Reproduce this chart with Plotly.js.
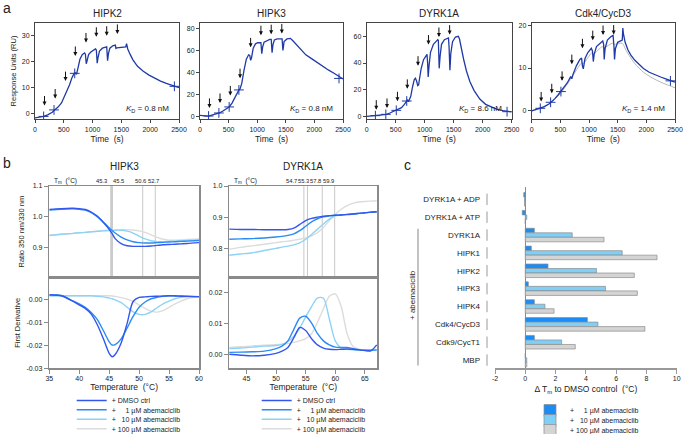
<!DOCTYPE html>
<html><head><meta charset="utf-8">
<script src="https://cdn.plot.ly/plotly-3.0.1.min.js"></script>
<style>html,body{margin:0;padding:0;background:#fff;}#chart{width:685px;height:434px;}</style>
</head><body><div id="chart"></div>
<script>
// ---------- DATA: panel a (SPR sensorgrams) ----------
const hipk2Time = [0,80,150,220,300,340,400,460,500,520,560,600,640,680,700,720,750,780,820,860,875,890,905,930,970,1010,1050,1065,1080,1095,1120,1170,1220,1245,1260,1275,1300,1350,1395,1405,1420,1480,1575,1590,1610,1650,1700,1780,1880,1980,2080,2180,2280,2380,2450,2500];
const hipk2RU   = [-1.6,-1.3,-1.0,-0.4,0.6,1.5,2.6,4.2,6.2,7.0,8.8,11.2,13.8,15.6,15.8,15.2,18.0,21.0,22.8,23.5,23.0,19.3,20.5,22.8,23.8,24.5,25.0,24.6,19.5,21.8,24.2,25.3,25.8,25.8,20.5,23.2,25.3,26.2,26.5,25.2,25.4,25.6,25.8,27.0,25.0,23.0,20.8,18.3,16.4,14.9,13.6,12.6,11.7,10.9,10.4,10.1];
const hipk3Time = [0,80,150,220,300,340,400,460,510,560,620,680,700,730,770,810,850,870,885,900,930,970,1010,1050,1065,1080,1095,1120,1170,1220,1245,1260,1275,1300,1350,1420,1435,1450,1470,1520,1580,1620,1680,1750,1850,1950,2050,2150,2250,2350,2450,2500];
const hipk3RU   = [0.8,0.5,0.2,1.2,2.4,3.0,4.8,7.0,8.5,12.0,18.5,24.0,25.0,30.0,42.0,52.0,56.0,55.5,51.0,53.0,62.0,66.0,67.0,67.5,67.0,57.0,63.0,67.5,69.0,70.0,70.0,58.0,65.0,69.5,70.5,71.0,70.5,60.0,68.0,70.5,71.0,69.0,65.5,61.3,56.0,52.5,48.8,45.5,42.0,39.0,35.5,34.0];
const dyrkTime  = [0,80,150,220,300,340,400,460,510,540,600,650,690,705,720,760,790,820,840,860,880,895,910,940,980,1020,1040,1050,1060,1075,1100,1150,1200,1225,1235,1250,1265,1290,1340,1390,1410,1420,1435,1450,1480,1530,1580,1600,1630,1670,1720,1780,1850,1950,2050,2150,2250,2350,2450,2500];
const dyrkRU    = [0,0.2,0.5,0.9,1.3,1.5,2.5,3.6,4.5,5.5,6.5,9.0,11.5,12.5,11.0,15.0,22.0,27.5,28.5,26.5,23.0,23.5,28.0,36.0,42.5,45.5,46.5,40.0,29.5,38.0,48.0,54.0,56.5,57.5,57.0,36.0,45.0,54.0,57.5,58.5,58.8,52.0,34.5,47.0,56.0,59.5,60.0,58.0,51.0,43.0,34.0,26.0,19.5,13.0,9.0,6.8,5.2,4.2,3.5,3.3];
const cdk4Time  = [0,80,150,220,300,340,400,460,510,560,620,680,700,720,780,840,870,885,900,930,980,1040,1060,1075,1090,1130,1190,1240,1255,1265,1280,1320,1380,1420,1435,1445,1460,1500,1580,1590,1600,1630,1680,1730,1800,1880,1950,2050,2150,2250,2350,2450,2500];
const cdk4RU    = [0,0.3,0.6,1.0,1.6,2.0,2.8,3.7,4.5,5.3,6.5,8.0,7.5,8.5,10.5,12.0,12.3,10.5,9.8,12.2,13.6,14.6,14.0,11.5,13.2,15.0,15.8,16.3,15.5,12.0,14.5,16.5,17.3,17.6,15.0,12.0,14.5,16.0,16.5,19.3,18.0,16.0,14.2,13.0,11.8,10.7,9.9,9.0,8.4,7.9,7.4,6.9,6.7];
const cdk4FitTime = [0,150,330,510,690,870,900,1050,1080,1230,1260,1410,1440,1580,1650,1800,1950,2100,2250,2400,2500];
const cdk4FitRU   = [0,0.5,1.8,4.2,7.6,11.2,11.0,13.6,13.3,15.0,14.7,15.8,15.5,15.8,14.0,11.0,9.0,7.7,6.7,5.9,5.4];
// injection markers (+)
const hipk2MarkT = [150,330,690,2420], hipk2MarkY = [-1.0,1.5,15.6,10.6];
const hipk3MarkT = [150,330,510,680,2430], hipk3MarkY = [0.2,3.0,8.5,24.0,34.5];
const dyrkMarkT  = [150,330,510,690,2420], dyrkMarkY  = [0.5,1.5,4.5,11.5,3.5];
const cdk4MarkT  = [150,330,510,2420], cdk4MarkY  = [0.6,2.0,4.5,7.0];
// injection arrows (time, tip RU)
const arrowT = [165,350,530,700,885,1065,1245,1430];
const hipk2ArrowY = [3.2,5.9,12.6,22.3,27.5,29.7,30.1,30.8];
const hipk3ArrowY = [7.6,12.1,19.0,34.7,62.8,73.9,74.8,75.5];
const dyrkArrowY  = [5.0,6.3,11.3,20.6,38.0,53.8,59.5,61.3];
const cdk4ArrowY  = [2.2,4.1,7.0,10.9,14.6,16.5,17.7,17.8];
const aTitles = ['HIPK2','HIPK3','DYRK1A','Cdk4/CycD3'];
const aKD = ['0.8','0.8','8.6','1.4'];
const aTimeTicks = [0,500,1000,1500,2000,2500];
const hipk2Ticks = [0,10,20,30], hipk3Ticks = [0,20,40,60,80], dyrkTicks = [0,20,40,60], cdk4Ticks = [0,10,20];

// ---------- DATA: panel b (nanoDSF) ----------
const seriesNames = ['+ DMSO ctrl','+ \u00a0\u00a0\u00a0\u00a01 µM abemaciclib','+ \u00a0\u00a010 µM abemaciclib','+ 100 µM abemaciclib'];
const hipk3Temp = [35,37,39,40,41,42,43,44,45,45.5,46,47,48,49,50,51,52,53,54,55,56,57,58,60];
const hipk3Ratio = [
 [1.024,1.027,1.028,1.027,1.024,1.016,1.003,0.983,0.960,0.946,0.930,0.914,0.907,0.905,0.905,0.905,0.906,0.908,0.910,0.911,0.912,0.913,0.914,0.917],
 [1.022,1.025,1.026,1.025,1.022,1.014,1.001,0.984,0.965,0.956,0.948,0.935,0.926,0.920,0.917,0.916,0.916,0.917,0.918,0.919,0.920,0.921,0.922,0.924],
 [0.940,0.944,0.947,0.949,0.950,0.952,0.954,0.955,0.956,0.956,0.957,0.957,0.954,0.948,0.938,0.929,0.923,0.920,0.920,0.921,0.922,0.923,0.924,0.926],
 [0.941,0.944,0.947,0.949,0.950,0.952,0.954,0.956,0.957,0.957,0.958,0.959,0.959,0.958,0.955,0.950,0.942,0.934,0.928,0.925,0.925,0.926,0.927,0.929]];
const hipk3Deriv = [
 [0.0018,0.0015,-0.001,-0.0025,-0.004,-0.0065,-0.011,-0.017,-0.0235,-0.025,-0.024,-0.019,-0.0105,-0.001,0.0008,0.001,0.0012,0.0013,0.0014,0.0015,0.0014,0.0013,0.0012,0.0011],
 [0.002,0.0016,-0.0008,-0.002,-0.0035,-0.0058,-0.0088,-0.0135,-0.0185,-0.0199,-0.0197,-0.0172,-0.0125,-0.0075,-0.0035,-0.0012,0.0002,0.0008,0.0012,0.0015,0.0015,0.0014,0.0013,0.0011],
 [0.0015,0.0015,0.0015,0.0015,0.0015,0.0015,0.0013,0.001,0.0005,0.0002,-0.0003,-0.0015,-0.0035,-0.0055,-0.0066,-0.0066,-0.0055,-0.0037,-0.002,-0.0008,0.0002,0.0008,0.001,0.0011],
 [0.0015,0.0015,0.0015,0.0015,0.0015,0.0015,0.0015,0.0015,0.0015,0.0014,0.0012,0.0007,0,-0.001,-0.0025,-0.004,-0.0052,-0.0056,-0.005,-0.0035,-0.002,-0.0008,0.0002,0.001]];
const hipk3Tm = [45.3,45.5,50.6,52.7];
const dyrkTemp = [42,44,46,48,50,51,52,53,54,55,56,57,58,59,60,61,62,63,64,65,66,67];
const dyrkRatio = [
 [0.863,0.862,0.862,0.861,0.861,0.861,0.862,0.866,0.878,0.890,0.897,0.901,0.904,0.906,0.907,0.908,0.909,0.911,0.913,0.915,0.917,0.918],
 [0.831,0.832,0.833,0.835,0.838,0.840,0.843,0.848,0.858,0.872,0.886,0.896,0.902,0.905,0.907,0.908,0.910,0.911,0.913,0.915,0.917,0.918],
 [0.780,0.784,0.788,0.795,0.802,0.806,0.809,0.813,0.819,0.831,0.846,0.863,0.879,0.895,0.905,0.908,0.910,0.911,0.913,0.915,0.917,0.918],
 [0.799,0.805,0.810,0.815,0.820,0.823,0.825,0.828,0.831,0.835,0.842,0.852,0.868,0.890,0.910,0.926,0.938,0.945,0.949,0.951,0.952,0.953]];
const dyrkDeriv = [
 [0.0002,-0.0001,-0.0003,-0.0001,0.0005,0.0012,0.0024,0.0055,0.0088,0.0078,0.0052,0.0032,0.0022,0.0018,0.0017,0.0018,0.0019,0.0018,0.0016,0.0014,0.0013,0.0032],
 [0.0008,0.0009,0.001,0.0012,0.002,0.0028,0.0045,0.0082,0.0118,0.0124,0.0102,0.0068,0.0045,0.0032,0.0025,0.0024,0.0024,0.002,0.0017,0.0015,0.0015,0.0016],
 [0.002,0.0022,0.0025,0.0028,0.003,0.0034,0.0043,0.006,0.0086,0.0122,0.0155,0.0183,0.0182,0.0115,0.0045,0.0022,0.0018,0.0016,0.0015,0.0015,0.0015,0.0015],
 [0.0024,0.0026,0.0029,0.0031,0.0033,0.0034,0.0036,0.004,0.0045,0.0052,0.0068,0.0105,0.0148,0.0188,0.0196,0.0155,0.0068,0.0027,0.0018,0.0015,0.0014,0.0014]];
const dyrkTm = [54.7,55.3,57.8,59.9];
const hipk3TempTicks = [35,40,45,50,55,60];
const dyrkTempTicks = [45,50,55,60,65];
const hipk3RatioTicks = [0.9,1.0,1.1], hipk3RatioText = ['0.9','1.0','1.1'];
const hipk3DerivTicks = [0,-0.01,-0.02,-0.03], hipk3DerivText = ['0.00','-0.01','-0.02','-0.03'];
const dyrkRatioTicks = [0.8,0.9,1.0], dyrkRatioText = ['0.8','0.9','1.0'];
const dyrkDerivTicks = [0,0.01,0.02], dyrkDerivText = ['0.00','0.01','0.02'];

// ---------- DATA: panel c (ΔTm bars) ----------
const cCategories = ['DYRK1A + ADP','DYRK1A + ATP','DYRK1A','HIPK1','HIPK2','HIPK3','HIPK4','Cdk4/CycD3','Cdk9/CycT1','MBP'];
const dTm1   = [-0.1,-0.2,0.6,0.4,1.5,0.2,0.6,4.1,0.6,0.0];
const dTm10  = [-0.05,0.1,3.1,6.4,4.7,5.3,1.3,4.8,2.4,0.1];
const dTm100 = [-0.05,0.0,5.2,8.7,7.2,7.4,1.9,7.9,3.3,0.1];
const cBarNames = ['+ \u00a0\u00a0\u00a0\u00a01 µM abemaciclib','+ \u00a0\u00a010 µM abemaciclib','+ 100 µM abemaciclib'];
const cTicks = [-2,0,2,4,6,8,10], cTickText = ['-2','0','2','4','6','8','10'];

// ---------- styling / layout ----------
const W = 685, H = 434;
const FONT = 'Liberation Sans, Arial, Helvetica, sans-serif';
const dxp = (a,b) => [a/W, b/W];
const dyp = (a,b) => [1-b/H, 1-a/H];
const NAVY = '#1f3aa6';
const bColors = ['#3356ee','#2a8cf2','#8ed3f6','#dcdcdc'];
const cColors = ['#1a8cf5','#7fcff6','#d4d4d4'];

const traces = [];
const annotations = [];
const shapes = [];

const aSets = [
  {t:hipk2Time,y:hipk2RU,mt:hipk2MarkT,my:hipk2MarkY,ay:hipk2ArrowY,ticks:hipk2Ticks,range:[-2,35],x:[35,179]},
  {t:hipk3Time,y:hipk3RU,mt:hipk3MarkT,my:hipk3MarkY,ay:hipk3ArrowY,ticks:hipk3Ticks,range:[-2.5,85],x:[200,343]},
  {t:dyrkTime,y:dyrkRU,mt:dyrkMarkT,my:dyrkMarkY,ay:dyrkArrowY,ticks:dyrkTicks,range:[-2,70],x:[366.7,511.7]},
  {t:cdk4Time,y:cdk4RU,mt:cdk4MarkT,my:cdk4MarkY,ay:cdk4ArrowY,ticks:cdk4Ticks,range:[-1.9,20.5],x:[531.7,675]}
];
const layout = {
  width: W, height: H, margin:{l:0,r:0,t:0,b:0,autoexpand:false}, paper_bgcolor:'#fff', plot_bgcolor:'rgba(0,0,0,0)',
  font:{family:FONT, size:7, color:'#222'}, showlegend:true, barmode:'group', bargap:0.24, bargroupgap:0
};
aSets.forEach((s,i) => {
  const n = i+1, xs = n===1?'x':'x'+n, ys = n===1?'y':'y'+n;
  const xk = n===1?'xaxis':'xaxis'+n, yk = n===1?'yaxis':'yaxis'+n;
  if (i===3) traces.push({type:'scatter',mode:'lines',x:cdk4FitTime,y:cdk4FitRU,xaxis:xs,yaxis:ys,line:{color:'#b5b5b5',width:1,shape:'spline',smoothing:0.5},showlegend:false,hoverinfo:'skip'});
  traces.push({type:'scatter',mode:'lines',x:s.t,y:s.y,xaxis:xs,yaxis:ys,line:{color:NAVY,width:1.3},showlegend:false,hoverinfo:'skip'});
  traces.push({type:'scatter',mode:'markers',x:s.mt,y:s.my,xaxis:xs,yaxis:ys,marker:{symbol:'cross-thin-open',size:7,color:NAVY,line:{color:NAVY,width:1}},showlegend:false,hoverinfo:'skip'});
  layout[xk] = {domain:dxp(s.x[0],s.x[1]), anchor:ys, range:[0,2500], tickvals:aTimeTicks, showline:true, mirror:true, linecolor:'#444', linewidth:1,
    ticks:'outside', ticklen:3, tickcolor:'#444', tickfont:{size:7}, ticklabelstandoff:1, showgrid:false, zeroline:false,
    title:{text:'Time \u00a0(s)', font:{size:8.5}, standoff:3}};
  layout[yk] = {domain:dyp(23,119), anchor:xs, range:s.range, tickvals:s.ticks, showline:true, mirror:true, linecolor:'#444', linewidth:1,
    ticks:'outside', ticklen:3, tickcolor:'#444', tickfont:{size:7}, showgrid:false, zeroline:false};
  if (i===0) layout[yk].title = {text:'Response Units (RU)', font:{size:7.5}, standoff:4};
  annotations.push({xref:'paper',yref:'paper',x:(s.x[0]+s.x[1])/2/W,y:1-13/H,text:aTitles[i],showarrow:false,font:{size:10},xanchor:'center',yanchor:'middle'});
  annotations.push({xref:'paper',yref:'paper',x:(s.x[1]-8)/W,y:1-109/H,text:'<i>K</i><sub>D</sub> = '+aKD[i]+' nM',showarrow:false,font:{size:8},xanchor:'right',yanchor:'middle'});
  arrowT.forEach((t,k) => annotations.push({xref:xs,yref:ys,x:t,y:s.ay[k],ax:0,ay:-11,showarrow:true,arrowhead:2,arrowsize:0.8,arrowwidth:1,arrowcolor:'#111',text:''}));
});

// panel b
const bSets = [
  {T:hipk3Temp,R:hipk3Ratio,D:hipk3Deriv,tm:hipk3Tm,tmShift:[-9,6,-2,-1.5],x:[49.3,199],xr:[35,60],xt:hipk3TempTicks,
   rr:[0.805,1.1],rt:hipk3RatioTicks,rtt:hipk3RatioText,dr:[-0.03,0.0095],dt:hipk3DerivTicks,dtt:hipk3DerivText,title:'HIPK3',leg:71.7,tmLabelX:51.7},
  {T:dyrkTemp,R:dyrkRatio,D:dyrkDeriv,tm:dyrkTm,tmShift:[-12.4,-3.7,-6.3,-6.6],x:[229.3,377.3],xr:[42.1,67.1],xt:dyrkTempTicks,
   rr:[0.71,1.0],rt:dyrkRatioTicks,rtt:dyrkRatioText,dr:[-0.0043,0.0249],dt:dyrkDerivTicks,dtt:dyrkDerivText,title:'DYRK1A',leg:256.7,tmLabelX:231.7}
];
const legRows = [400,409.3,418.7,428.3];
function mkLegend(leftPx, centerPx){
  return {x:leftPx/W, y:1-(centerPx-14)/H, xanchor:'left', yanchor:'top', bgcolor:'rgba(0,0,0,0)', borderwidth:0,
          font:{size:7,family:FONT,color:'#222'}, itemwidth:30, tracegroupgap:0};
}
bSets.forEach((s,i) => {
  const nt = 5+2*i, nb = 6+2*i;
  const xt='x'+nt, yt='y'+nt, xb='x'+nb, yb='y'+nb;
  const axLine = {showline:true, mirror:true, linecolor:'#8a8a8a', linewidth:1.5, showgrid:false, zeroline:false, tickfont:{size:7}, ticks:'outside', ticklen:4, tickcolor:'#8a8a8a'};
  for (let k=3;k>=0;k--){
    traces.push({type:'scatter',mode:'lines',x:s.T,y:s.R[k],xaxis:xt,yaxis:yt,line:{color:bColors[k],width:1.4,shape:'spline',smoothing:0.8},showlegend:false,hoverinfo:'skip'});
  }
  for (let k=3;k>=0;k--){
    const idx = i*4+k; const legName = idx===0?'legend':'legend'+(idx+1);
    traces.push({type:'scatter',mode:'lines',x:s.T,y:s.D[k],xaxis:xb,yaxis:yb,name:seriesNames[k],legend:legName,line:{color:bColors[k],width:1.4,shape:'spline',smoothing:0.8},showlegend:true,hoverinfo:'skip'});
    layout[legName] = mkLegend(s.leg, legRows[k]);
  }
  layout['xaxis'+nt] = Object.assign({}, axLine, {domain:dxp(s.x[0],s.x[1]), anchor:yt, range:s.xr, showticklabels:false, ticks:''});
  layout['yaxis'+nt] = Object.assign({}, axLine, {domain:dyp(186,277.3), anchor:xt, range:s.rr, tickvals:s.rt, ticktext:s.rtt});
  layout['xaxis'+nb] = Object.assign({}, axLine, {domain:dxp(s.x[0],s.x[1]), anchor:yb, range:s.xr, tickvals:s.xt, ticklabelstandoff:-1,
      title:{text:'Temperature \u00a0(°C)', font:{size:8.5}, standoff:3}});
  layout['yaxis'+nb] = Object.assign({}, axLine, {domain:dyp(277.3,368.3), anchor:xb, range:s.dr, tickvals:s.dt, ticktext:s.dtt});
  if (i===0){
    layout['yaxis'+nt].title = {text:'Ratio 350 nm/330 nm', font:{size:7.5}, standoff:7};
    layout['yaxis'+nb].title = {text:'First Derivative', font:{size:7.5}, standoff:5};
  }
  s.tm.forEach((tm,k) => {
    shapes.push({type:'line',xref:xt,yref:yt+' domain',x0:tm,x1:tm,y0:0,y1:1,line:{color:k<2&&i===0?'#b0b0b0':'#c8c8c8',width:1},layer:'below'});
    annotations.push({xref:xt,yref:'paper',x:tm,y:1-181/H,text:tm.toFixed(1),xshift:s.tmShift[k],showarrow:false,font:{size:5.8},xanchor:'center',yanchor:'middle'});
  });
  annotations.push({xref:'paper',yref:'paper',x:s.tmLabelX/W,y:1-181/H,text:'T<sub>m</sub> \u00a0(°C)',showarrow:false,font:{size:6.5},xanchor:'left',yanchor:'middle'});
  annotations.push({xref:'paper',yref:'paper',x:(s.x[0]+s.x[1])/2/W,y:1-166/H,text:s.title,showarrow:false,font:{size:10},xanchor:'center',yanchor:'middle'});
});

// panel c
const cVals = [dTm1, dTm10, dTm100];
const cLegRows = [410,420,430];
cVals.forEach((v,k) => {
  const legName = 'legend'+(9+k);
  traces.push({type:'bar',orientation:'h',x:v,y:cCategories,xaxis:'x9',yaxis:'y9',name:cBarNames[k],legend:legName,
    marker:{color:cColors[k],line:{color:'#8c8c8c',width:0.7}},showlegend:true,hoverinfo:'skip'});
  layout[legName] = mkLegend(530, cLegRows[k]);
});
layout.xaxis9 = {domain:dxp(495,676.7), anchor:'y9', range:[-2,10], tickvals:cTicks, ticktext:cTickText, showline:true, linecolor:'#999', linewidth:1.5,
  ticks:'outside', ticklen:4, tickcolor:'#999', tickfont:{size:7}, ticklabelstandoff:-1, showgrid:false, zeroline:true, zerolinecolor:'#8a8a8a', zerolinewidth:1.5,
  title:{text:'Δ T<sub>m</sub> to DMSO control \u00a0(°C)', font:{size:8.5}, standoff:5}};
layout.yaxis9 = {domain:dyp(187,368.3), anchor:'x9', type:'category', range:[9.46,-0.69], showline:false, ticks:'', tickfont:{size:8,color:'#222'},
  showgrid:false, zeroline:false, ticklabelstandoff:14};
cCategories.forEach((c,i) => shapes.push({type:'line',xref:'paper',yref:'y9',x0:487/W,x1:487/W,y0:i-0.32,y1:i+0.32,line:{color:'#9a9a9a',width:1}}));
shapes.push({type:'line',xref:'paper',yref:'y9',x0:418/W,x1:418/W,y0:1.65,y1:9.3,line:{color:'#9a9a9a',width:1.2}});
annotations.push({xref:'paper',yref:'paper',x:412/W,y:1-295/H,text:'+ abemaciclib',textangle:-90,showarrow:false,font:{size:8},xanchor:'center',yanchor:'middle'});

// panel letters
annotations.push({xref:'paper',yref:'paper',x:1/W,y:1-8/H,text:'a',showarrow:false,font:{size:14},xanchor:'left',yanchor:'middle'});
annotations.push({xref:'paper',yref:'paper',x:1/W,y:1-163/H,text:'b',showarrow:false,font:{size:14},xanchor:'left',yanchor:'middle'});
annotations.push({xref:'paper',yref:'paper',x:402/W,y:1-165/H,text:'c',showarrow:false,font:{size:14},xanchor:'left',yanchor:'middle'});

layout.annotations = annotations;
layout.shapes = shapes;
Plotly.newPlot('chart', traces, layout, {staticPlot:true, displayModeBar:false});
</script>
</body></html>
